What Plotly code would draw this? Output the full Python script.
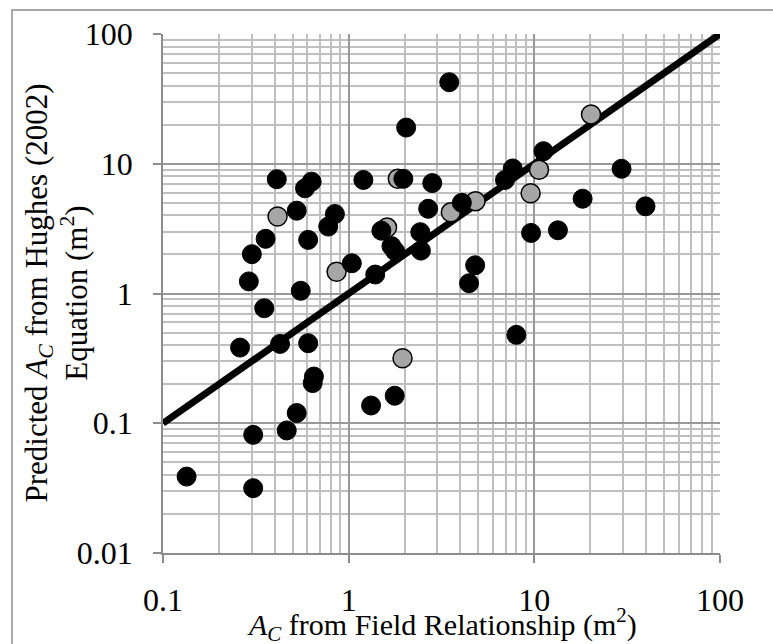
import plotly.graph_objects as go

# Data
x_black = [0.134, 0.306, 0.306, 0.26, 0.29, 0.301, 0.357, 0.351, 0.427, 0.41,
           0.464, 0.525, 0.525, 0.552, 0.582, 0.632, 0.605, 0.605, 0.65, 0.64,
           0.776, 0.843, 1.04, 1.20, 1.32, 1.39, 1.50, 1.70, 1.78, 1.77,
           1.97, 2.04, 2.45, 2.43, 2.68, 2.82, 3.48, 4.07, 4.45, 4.8,
           6.95, 7.65, 8.0, 9.6, 11.2, 13.4, 18.2, 29.5, 39.7]
y_black = [0.0388, 0.0316, 0.0814, 0.383, 1.24, 2.01, 2.64, 0.77, 0.409, 7.6,
           0.088, 0.12, 4.35, 1.05, 6.47, 7.28, 2.59, 0.414, 0.229, 0.204,
           3.28, 4.1, 1.71, 7.5, 0.137, 1.40, 3.05, 2.32, 2.12, 0.163,
           7.65, 19.0, 2.14, 2.97, 4.5, 7.1, 42.5, 5.0, 1.2, 1.65,
           7.5, 9.2, 0.48, 2.93, 12.5, 3.07, 5.38, 9.15, 4.7]
x_gray = [0.414, 0.861, 1.61, 1.84, 1.95, 3.55, 4.82, 9.55, 10.6, 20.2]
y_gray = [3.92, 1.47, 3.22, 7.67, 0.317, 4.22, 5.15, 5.93, 9.0, 24.0]

line_x = [0.1, 100]
line_y = [0.1, 100]

x_ticks = [0.1, 1, 10, 100]
x_ticklabels = ["0.1", "1", "10", "100"]
y_ticks = [0.01, 0.1, 1, 10, 100]
y_ticklabels = ["0.01", "0.1", "1", "10", "100"]

FONT = "Liberation Serif"

def minor_vals(lo_exp, hi_exp):
    vals = []
    for e in range(lo_exp, hi_exp):
        for m in range(2, 10):
            vals.append(m * 10 ** e)
    return vals

fig = go.Figure()
fig.add_trace(go.Scatter(x=line_x, y=line_y, mode="lines",
                         line=dict(color="black", width=7), showlegend=False,
                         cliponaxis=False))
fig.add_trace(go.Scatter(x=x_gray, y=y_gray, mode="markers",
                         marker=dict(size=19, color="#a6a6a6",
                                     line=dict(color="black", width=1.5)),
                         showlegend=False))
fig.add_trace(go.Scatter(x=x_black, y=y_black, mode="markers",
                         marker=dict(size=19, color="black",
                                     line=dict(color="black", width=1)),
                         showlegend=False))

axis_common = dict(
    type="log",
    showline=True, linecolor="#8c8c8c", linewidth=1.5,
    showgrid=True, gridcolor="#999999", gridwidth=1.5,
    ticks="outside", ticklen=8, tickcolor="#8c8c8c", tickwidth=1.5,
    tickfont=dict(family=FONT, size=32, color="black"),
    zeroline=False, mirror=False,
)

fig.update_xaxes(**axis_common, range=[-1, 2], tickmode="array",
                 tickvals=x_ticks, ticktext=x_ticklabels,
                 ticklabelstandoff=10,
                 minor=dict(tickvals=minor_vals(-1, 2), showgrid=True,
                            gridcolor="#bfbfbf", gridwidth=1.5, ticks=""))
fig.update_yaxes(**axis_common, range=[-2, 2], tickmode="array",
                 tickvals=y_ticks, ticktext=y_ticklabels,
                 ticklabelstandoff=14,
                 minor=dict(tickvals=minor_vals(-2, 2), showgrid=True,
                            gridcolor="#bfbfbf", gridwidth=1.5, ticks=""))

fig.add_annotation(
    text="<i>A</i><sub><i>C</i></sub> from Field Relationship (m<sup>2</sup>)",
    xref="paper", yref="paper", x=0.5, y=-0.092, xanchor="center", yanchor="top",
    showarrow=False, font=dict(family=FONT, size=30, color="black"))
fig.add_annotation(
    text="Predicted <i>A</i><sub><i>C</i></sub> from Hughes (2002)<br>Equation (m<sup>2</sup>)",
    xref="paper", yref="paper", x=-0.192, y=0.5, xanchor="center", yanchor="middle",
    textangle=-90, showarrow=False, font=dict(family=FONT, size=31, color="black"))

fig.add_shape(type="rect", xref="paper", yref="paper",
              x0=-0.2711, x1=1.2, y0=-0.3, y1=1.0462,
              line=dict(color="#8c8c8c", width=1.5), fillcolor="rgba(0,0,0,0)",
              layer="below")

fig.update_layout(
    width=773, height=644,
    margin=dict(l=163, r=53, t=34, b=91),
    plot_bgcolor="white", paper_bgcolor="white",
    showlegend=False,
)

fig.write_html("out.html")
